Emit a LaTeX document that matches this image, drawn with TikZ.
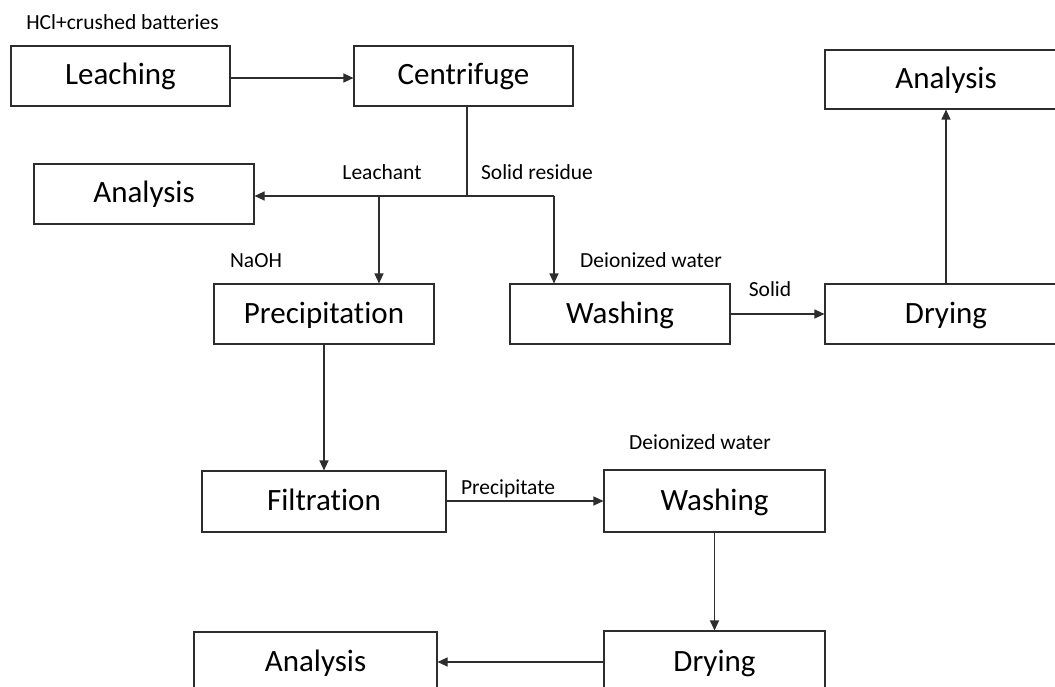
\documentclass[tikz,border=0pt]{standalone}
\usepackage{fontspec}
\setmainfont{Carlito}[Ligatures=NoCommon]
\usetikzlibrary{arrows.meta}
\definecolor{ln}{RGB}{45,45,45}
\tikzset{
  box/.style={draw=ln, line width=1.1pt, inner sep=0pt, anchor=center,
    text height=22pt, text depth=4pt,
    font=\fontsize{31}{37}\selectfont},
  lbl/.style={inner sep=0pt, anchor=center, text height=16pt, text depth=2pt,
    font=\fontsize{21.5}{26}\selectfont},
  flow/.style={draw=ln, line width=1.1pt, -{Triangle[length=10pt,width=9pt]}},
  seg/.style={draw=ln, line width=1.1pt}
}
\begin{document}
\begin{tikzpicture}[x=1pt,y=-1pt]
\useasboundingbox (0,0) rectangle (1055,687);
\clip (0,0) rectangle (1055,687);
\fill[white] (0,0) rectangle (1055,687);
% boxes
\node[box, minimum width=219pt, minimum height=60pt] (leach) at (120.5,76) {Leaching};
\node[box, minimum width=219pt, minimum height=60pt] (centr) at (463.5,76) {Centrifuge};
\node[box, minimum width=220pt, minimum height=60pt] (an1) at (144,194) {Analysis};
\node[box, minimum width=220pt, minimum height=60pt] (prec) at (324,314) {Precipitation};
\node[box, minimum width=220pt, minimum height=60pt] (wash1) at (620,314) {Washing};
\node[box, minimum width=242pt, minimum height=60pt] (dry1) at (946,314) {Drying};
\node[box, minimum width=242pt, minimum height=59pt] (an2) at (946,79.5) {Analysis};
\node[box, minimum width=244pt, minimum height=61pt] (filt) at (324,501.5) {Filtration};
\node[box, minimum width=221pt, minimum height=62pt] (wash2) at (714.5,501) {Washing};
\node[box, minimum width=221pt, minimum height=62pt] (dry2) at (714.5,662) {Drying};
\node[box, minimum width=243pt, minimum height=61pt] (an3) at (315.5,662.5) {Analysis};
% labels
\node[lbl] (hcl) at (122.5,23) {HCl+crushed batteries};
\node[lbl] (leachant) at (382,173) {Leachant};
\node[lbl] (solidres) at (537,173) {Solid residue};
\node[lbl] (naoh) at (256,261) {NaOH};
\node[lbl] (dw1) at (651,260) {Deionized water};
\node[lbl] (solid) at (770,289) {Solid};
\node[lbl] (precip) at (508,487) {Precipitate};
\node[lbl] (dw2) at (700,442) {Deionized water};
% junction coordinates
\coordinate (J) at (467,196);
\coordinate (JL) at (379,196);
\coordinate (JR) at (554,196);
% connectors
\draw[flow] (leach.east |- 0,78) -- (centr.west |- 0,78);
\draw[seg] (centr.south -| J) -- (J);
\draw[flow] (JR) -- (an1.east |- JR);
\draw[flow] (JL) -- (prec.north -| JL);
\draw[seg] (J) -- (JR);
\draw[flow] (JR) -- (wash1.north -| JR);
\draw[flow] (wash1.east) -- (dry1.west);
\draw[flow] (dry1.north) -- (an2.south);
\draw[flow] (prec.south) -- (filt.north -| prec.south);
\draw[flow] (filt.east |- wash2.west) -- (wash2.west);
\draw[flow] (wash2.south) -- (dry2.north);
\draw[flow] (dry2.west) -- (an3.east |- dry2.west);
\end{tikzpicture}
\end{document}
